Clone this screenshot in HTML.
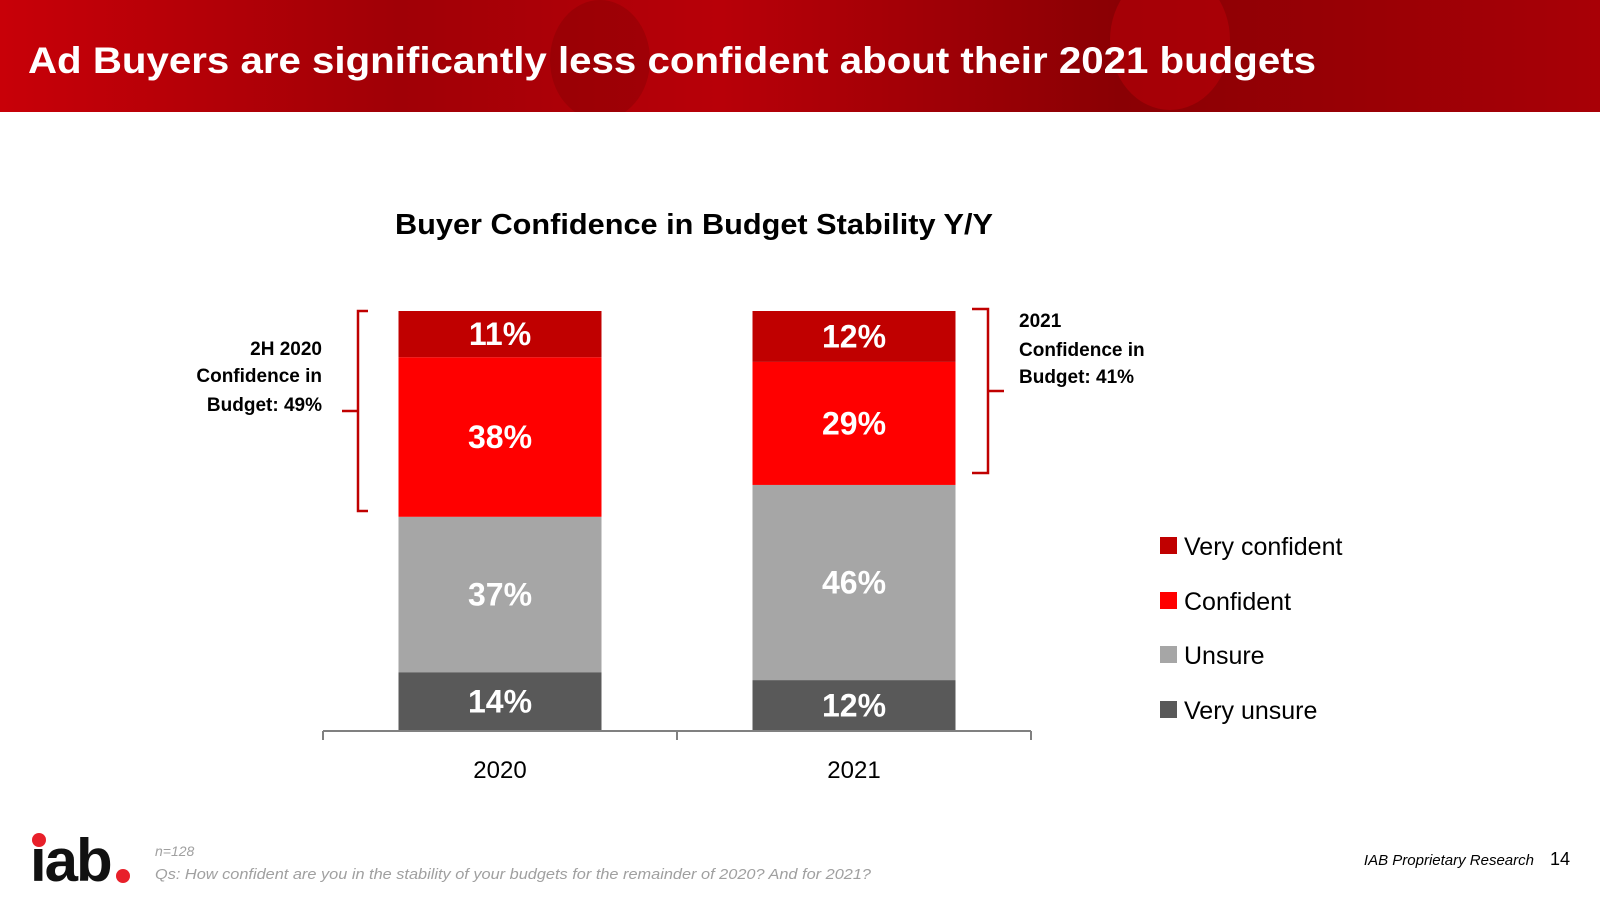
<!DOCTYPE html>
<html><head><meta charset="utf-8"><style>
html,body{margin:0;padding:0;background:#fff}
svg{display:block;font-family:"Liberation Sans",sans-serif}
</style></head><body>
<svg width="1600" height="900" viewBox="0 0 1600 900">
<defs>
<linearGradient id="hg" x1="0" y1="0" x2="1" y2="0">
<stop offset="0" stop-color="#c80008"/><stop offset="0.25" stop-color="#a00006"/>
<stop offset="0.45" stop-color="#b80008"/><stop offset="0.7" stop-color="#8a0004"/><stop offset="1" stop-color="#a80006"/>
</linearGradient>
<clipPath id="hc"><rect x="0" y="0" width="1600" height="112"/></clipPath>
</defs>
<g>
<rect x="0" y="0" width="1600" height="112" fill="url(#hg)"/>
<g clip-path="url(#hc)">
<ellipse cx="1170" cy="40" rx="60" ry="70" fill="#c00008" opacity="0.5"/>
<ellipse cx="600" cy="60" rx="50" ry="60" fill="#7a0004" opacity="0.35"/>
</g>
<text x="28" y="73" font-size="37" font-weight="bold" fill="#fff" textLength="1288" lengthAdjust="spacingAndGlyphs">Ad Buyers are significantly less confident about their 2021 budgets</text>
</g>
<text x="694" y="234" text-anchor="middle" font-size="29" font-weight="bold" fill="#000" textLength="598" lengthAdjust="spacingAndGlyphs">Buyer Confidence in Budget Stability Y/Y</text>
<g id="chart"></g>
<g>
<path d="M368,311 L358,311 L358,511 L368,511 M358,411 L342,411" stroke="#c00000" stroke-width="2.5" fill="none"/>
<text x="322" y="355" text-anchor="end" font-size="19" font-weight="bold" fill="#000">2H 2020</text>
<text x="322" y="382" text-anchor="end" font-size="19" font-weight="bold" fill="#000">Confidence in</text>
<text x="322" y="411" text-anchor="end" font-size="19" font-weight="bold" fill="#000">Budget:  49%</text>
</g>
<g>
<path d="M972,309 L988,309 L988,473 L972,473 M988,391 L1004,391" stroke="#c00000" stroke-width="2.5" fill="none"/>
<text x="1019" y="327" font-size="19" font-weight="bold" fill="#000">2021</text>
<text x="1019" y="356" font-size="19" font-weight="bold" fill="#000">Confidence in</text>
<text x="1019" y="383" font-size="19" font-weight="bold" fill="#000">Budget:  41%</text>
</g>
<g>
<text x="30" y="881" font-size="60" font-weight="bold" fill="#111" letter-spacing="-2">iab</text>
<circle cx="123" cy="876" r="7" fill="#e8202a"/>
<circle cx="39" cy="840" r="7" fill="#e8202a"/>
</g>
<text x="155" y="856" font-size="14" font-style="italic" fill="#a0a0a0">n=128</text>
<text x="155" y="879" font-size="14.5" font-style="italic" fill="#a0a0a0" textLength="716" lengthAdjust="spacingAndGlyphs">Qs: How confident are you in the stability of your budgets for the remainder of 2020? And for 2021?</text>
<text x="1534" y="865" text-anchor="end" font-size="15" font-style="italic" fill="#000">IAB Proprietary Research</text>
<text x="1550" y="865" font-size="18" fill="#000">14</text>
<script>
const categories = ["2020", "2021"];
const seriesNames = ["Very unsure", "Unsure", "Confident", "Very confident"];
const veryUnsure = [14, 12];
const unsure = [37, 46];
const confident = [38, 29];
const veryConfident = [11, 12];
const colors = ["#595959", "#a6a6a6", "#ff0000", "#c00000"];
const ns = "http://www.w3.org/2000/svg";
const g = document.getElementById('chart');
const y0 = 731, barH = 420;
const axisLeft = 323, bandW = 354;
const xCenter = i => axisLeft + bandW * (i + 0.5);
const barW = 203;
function mk(tag, attrs){const e=document.createElementNS(ns,tag);for(const k in attrs)e.setAttribute(k,attrs[k]);g.appendChild(e);return e;}
const series = [veryUnsure, unsure, confident, veryConfident];
categories.forEach((c, i) => {
  const total = series.reduce((a, s) => a + s[i], 0);
  const yScale = v => y0 - v / total * barH;
  let cum = 0;
  series.forEach((s, j) => {
    const v = s[i];
    const top = yScale(cum + v), bot = yScale(cum);
    const r = mk('rect', {x: xCenter(i) - barW/2, y: top, width: barW, height: bot - top, fill: colors[j]});
    
    
    const t = mk('text', {x: xCenter(i), y: (top + bot)/2 + 11, 'text-anchor': 'middle', 'font-size': 32, 'font-weight': 'bold', fill: '#fff'});
    t.textContent = v + '%';
    
    
    cum += v;
  });
  const xl = mk('text', {x: xCenter(i), y: 778, 'text-anchor': 'middle', 'font-size': 24, fill: '#000'});
  xl.textContent = c;
  
  
});
const ax = mk('path', {d: `M${axisLeft},${y0} L${axisLeft+bandW*2},${y0} M${axisLeft},${y0} L${axisLeft},${y0+9} M${axisLeft+bandW},${y0} L${axisLeft+bandW},${y0+9} M${axisLeft+bandW*2},${y0} L${axisLeft+bandW*2},${y0+9}`, stroke: '#808080', 'stroke-width': 2, fill: 'none'});


const legendY = [546, 601, 655, 710];
[3,2,1,0].forEach((j, k) => {
  const sq = mk('rect', {x: 1160, y: legendY[k] - 9, width: 17, height: 17, fill: colors[j]});
  
  
  const t = mk('text', {x: 1184, y: legendY[k] + 9, 'font-size': 25, fill: '#000'});
  t.textContent = seriesNames[j];
  
  
});
</script>
</svg>
</body></html>
